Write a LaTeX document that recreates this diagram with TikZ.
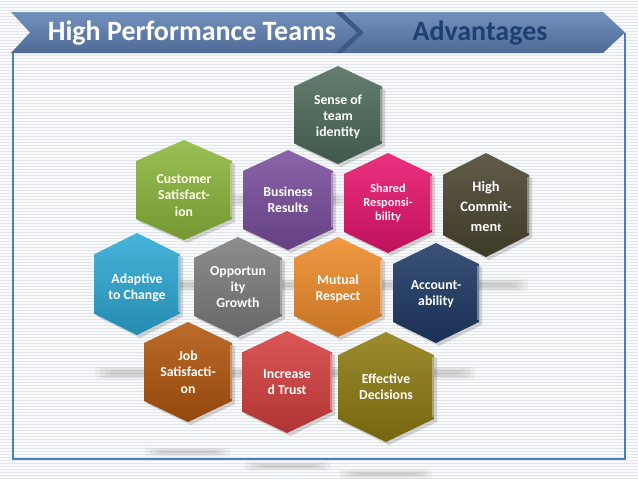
\documentclass[tikz,border=0pt]{standalone}
\usepackage{fontspec}
\setmainfont{Carlito}
\definecolor{bgc}{HTML}{F8F9FB}
\definecolor{stripe}{HTML}{E3E6EA}
\definecolor{frameblue}{HTML}{4A7DBA}
\definecolor{bannerTop}{HTML}{7391BE}
\definecolor{bannerBot}{HTML}{4E6A95}
\definecolor{bannerDark}{HTML}{3E5986}
\definecolor{advblue}{HTML}{1F3E72}
\definecolor{cSense}{HTML}{4F6C5C}
\definecolor{cCust}{HTML}{8DB83D}
\definecolor{cBus}{HTML}{7A4F9E}
\definecolor{cShared}{HTML}{E9156F}
\definecolor{cHigh}{HTML}{4B4630}
\definecolor{cAdapt}{HTML}{2EAAD6}
\definecolor{cOpp}{HTML}{7E7E7E}
\definecolor{cMutual}{HTML}{F08C2A}
\definecolor{cAcc}{HTML}{1F3A66}
\definecolor{cJob}{HTML}{B3570E}
\definecolor{cTrust}{HTML}{D6403F}
\definecolor{cEff}{HTML}{8F7C12}
\tikzset{
  stripeline/.style={draw=stripe, line width=0.6pt},
  frameline/.style={draw=frameblue, line width=2pt},
  bannertext/.style={font=\bfseries\fontsize{21}{24}\selectfont, inner sep=0pt},
  hexshadow/.style={fill=black, opacity=0.15},
  hexlabel/.style={align=center, text=white, inner sep=0pt,
    font=\bfseries\fontsize{10.3}{12.2}\selectfont},
  smudgefill/.style={fill=gray, opacity=0.09}
}
% #1 name, #2 cx, #3 cy, #4 half width, #5 half height, #6 colour, #7 label options, #8 label
\newcommand{\hexcell}[8]{%
  \fill[hexshadow] ({#2+3},{#3-#5+3}) -- ({#2+#4+3},{#3-0.58*#5+3}) -- ({#2+#4+3},{#3+0.58*#5+3})
     -- ({#2+3},{#3+#5+3}) -- ({#2-#4+3},{#3+0.58*#5+3}) -- ({#2-#4+3},{#3-0.58*#5+3}) -- cycle;
  \shade[top color=#6!88!white, bottom color=#6!82!black]
     ({#2},{#3-#5}) -- ({#2+#4},{#3-0.58*#5}) -- ({#2+#4},{#3+0.58*#5})
     -- ({#2},{#3+#5}) -- ({#2-#4},{#3+0.58*#5}) -- ({#2-#4},{#3-0.58*#5}) -- cycle;
  \draw[white, opacity=0.35, line width=1.2pt] ({#2+#4-1},{#3-0.58*#5+2}) -- ({#2+#4-1},{#3+0.58*#5-2});
  \node[hexlabel,#7] (#1) at (#2,#3) {#8};
}
% #1 x1, #2 x2, #3 y, #4 height
\newcommand{\smudge}[4]{%
  \foreach \k in {0,1,2,3}{
    \fill[smudgefill, rounded corners=2pt] ({#1+\k*5},{#3-#4/2+\k*1.2}) rectangle ({#2-\k*5},{#3+#4/2-\k*1.2});
  }
}
\begin{document}
\begin{tikzpicture}[x=0.75pt,y=-0.75pt]
\useasboundingbox (0,0) rectangle (638,479);
% background
\fill[bgc] (0,0) rectangle (638,479);
\foreach \yy in {1,4,...,478} { \draw[stripeline] (0,\yy) -- (638,\yy); }
% soft reflections
\smudge{228}{350}{200}{12}
\smudge{105}{528}{285}{12}
\smudge{95}{475}{373}{12}
\smudge{145}{230}{452}{9}
\smudge{245}{330}{466}{9}
\smudge{340}{432}{474}{9}
% frame
\draw[frameline] (625,33) -- (625,459) -- (13,459) -- (13,53);
% banner
\shade[top color=bannerTop, bottom color=bannerBot]
  (335,12) -- (603,12) -- (625,32.5) -- (603,53) -- (335,53) -- (357,32.5) -- cycle;
\fill[bannerDark] (333,12) -- (342,12) -- (364,32.5) -- (342,53) -- (333,53) -- cycle;
\shade[top color=bannerTop, bottom color=bannerBot]
  (11,12) -- (335,12) -- (357,32.5) -- (335,53) -- (11,53) -- (30,32.5) -- cycle;
\node[bannertext, text=white] (title) at (192,33) {High Performance Teams};
\node[bannertext, text=advblue] (adv) at (480,33) {Advantages};
% hexagons
\hexcell{sense}{338}{115}{44}{49}{cSense}{yshift=-1.5pt}{Sense of\\team\\identity}
\hexcell{cust}{184}{190}{48}{50}{cCust}{yshift=-4pt, text=white!92!yellow}{Customer\\Satisfact-\\ion}
\hexcell{bus}{288}{200}{45}{50}{cBus}{}{Business\\Results}
\hexcell{shared}{388}{203}{44}{50}{cShared}{text=white!88!pink, font=\bfseries\fontsize{9.2}{10.6}\selectfont}{Shared\\Responsi-\\bility}
\hexcell{high}{486}{205}{43}{52}{cHigh}{yshift=-1pt, font=\bfseries\fontsize{10.8}{15}\selectfont}{High\\Commit-\\men{\fontsize{8.8}{10}\selectfont t}}
\hexcell{adapt}{137}{284}{43}{51}{cAdapt}{yshift=-3pt}{Adaptive\\to Change}
\hexcell{opp}{238}{287}{44}{50}{cOpp}{}{Opportun\\ity\\Growth}
\hexcell{mutual}{338}{287}{44}{50}{cMutual}{yshift=-1.5pt}{Mutual\\Respect}
\hexcell{acc}{436}{293}{43}{50}{cAcc}{yshift=-1pt}{Account-\\ability}
\hexcell{job}{188}{372}{44}{50}{cJob}{}{Job\\Satisfacti-\\on}
\hexcell{trust}{287}{382}{45}{51}{cTrust}{}{Increase\\d Trust}
\hexcell{eff}{386}{387}{48}{55}{cEff}{}{Effective\\Decisions}
\end{tikzpicture}
\end{document}
